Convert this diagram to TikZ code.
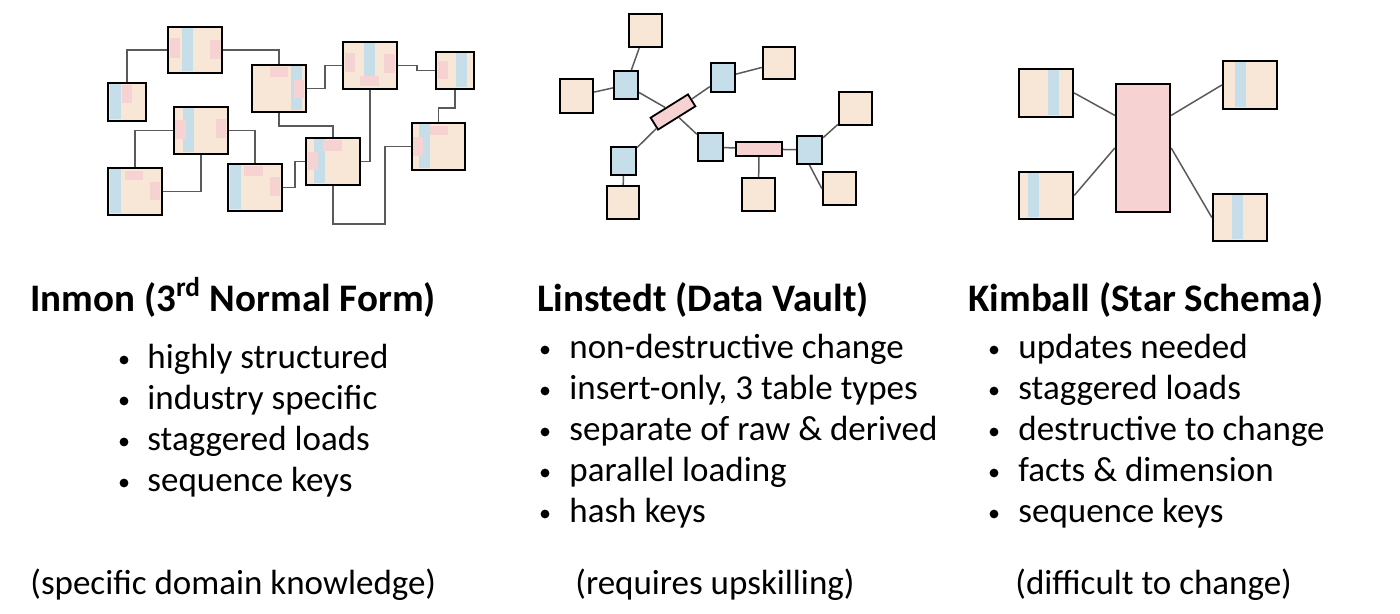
\documentclass[tikz,border=0pt]{standalone}
\usepackage{fontspec}
\setmainfont{Carlito}
\usetikzlibrary{fit,calc}

\definecolor{beige}{HTML}{F8E7D6}
\definecolor{stripe}{HTML}{C6DEE9}
\definecolor{patch}{HTML}{F6D2D2}
\definecolor{wire}{HTML}{5A5A5A}

\tikzset{
  tbl/.style={draw=black, line width=1.2pt, fill=beige, inner sep=0pt},
  hub/.style={draw=black, line width=1.1pt, fill=stripe, inner sep=0pt},
  lnk/.style={draw=black, line width=0.9pt, fill=patch, inner sep=0pt},
  wire/.style={draw=wire, line width=0.75pt},
  head/.style={anchor=base west, font=\bfseries\fontsize{19.5}{22}\selectfont, inner sep=0pt},
  item/.style={anchor=base west, font=\fontsize{17.5}{20}\selectfont, inner sep=0pt},
  dot/.style={circle, fill=black, inner sep=0pt, minimum size=4.4pt},
}
% table box by its corners
\newcommand{\tbl}[6][tbl]{\node[#1, fit={(#3,#4) (#5,#6)}] (#2) {};}
\newcommand{\band}[4]{\fill[stripe] (#1,#2) rectangle (#3,#4);}
\newcommand{\spot}[4]{\fill[patch] (#1,#2) rectangle (#3,#4);}

\begin{document}
\begin{tikzpicture}[x=0.5pt, y=-0.5pt]
  \useasboundingbox (0,0) rectangle (1400,614);

  %% Inmon
  \tbl{A}{168}{27}{222}{73}
  \tbl{B}{108}{83}{146}{121}
  \tbl{C}{252}{65}{306}{112}
  \tbl{D}{343}{42}{397}{89}
  \tbl{E}{436}{52}{474}{89}
  \tbl{F}{174}{107}{228}{154}
  \tbl{G}{108}{168}{162}{215}
  \tbl{H}{228}{164}{282}{211}
  \tbl{I}{306}{138}{360}{185}
  \tbl{J}{412}{123}{465}{170}

  \band{182}{28.5}{193}{71.5} \spot{170}{38}{180}{58} \spot{210}{40}{221}{59}
  \band{110}{84.5}{121}{119.5} \spot{122}{85}{132}{103}
  \band{291}{66.5}{302}{110.5} \spot{270}{67}{288}{77} \spot{294}{80}{304}{98}
  \band{364}{43.5}{375}{76} \spot{345}{53}{355}{72} \spot{384}{54}{395}{73} \spot{360}{76}{379}{86}
  \band{456}{53.5}{467}{87.5} \spot{438}{61}{448}{79}
  \band{183}{108.5}{194}{152.5} \spot{175}{120}{186}{139} \spot{216}{119}{226}{138}
  \band{110}{169.5}{121}{213.5} \spot{125}{171}{143}{180} \spot{150}{182}{160}{200}
  \band{229.5}{165.5}{241}{209.5} \spot{244}{166}{263}{176} \spot{270}{177}{280}{196}
  \band{314}{139.5}{325}{183.5} \spot{308}{152}{318}{170} \spot{323}{140}{342}{151}
  \band{419}{124.5}{430}{168.5} \spot{430}{126}{448}{135} \spot{413}{137}{423}{156}

  \draw[wire] (A.west) -| (B.north);
  \draw[wire] (A.east) -| (C.north);
  \draw[wire] (C.east) -- ++(18,0) |- (D.west);
  \draw[wire] (D.east) -- ++(19,0) |- (E.west);
  \draw[wire] (E.south) -- ++(0,18) -| (J.north);
  \draw[wire] (C.south) -- ++(0,13) -| (I.north);
  \draw[wire] (D.south) |- (I.east);
  \draw[wire] (F.west) -| (G.north);
  \draw[wire] (F.east) -| (H.north);
  \draw[wire] (F.south) |- (G.east);
  \draw[wire] (H.east) -- ++(12,0) |- (I.west);
  \coordinate (Jin) at ($(J.west)+(-26,0)$);
  \draw[wire] (I.south) -- ++(0,38) -| (Jin) -- (J.west);

  %% Linstedt
  \tbl{s1}{629}{14}{662}{47}
  \tbl{s2}{560}{79}{593}{113}
  \tbl{s3}{763}{47}{795}{79}
  \tbl{s4}{839}{92}{872}{125}
  \tbl{s5}{607}{186}{639}{219}
  \tbl{s6}{742}{178}{775}{211}
  \tbl{s7}{823}{172}{856}{205}
  \tbl[hub]{h1}{614}{71}{638}{99}
  \tbl[hub]{h2}{711}{63}{735}{92}
  \tbl[hub]{h3}{611}{147}{636}{175}
  \tbl[hub]{h4}{698}{133}{723}{161}
  \tbl[hub]{h5}{797}{136}{822}{164}
  \node[lnk, minimum width=22pt, minimum height=7pt, rotate=32] (l1) at (673,112) {};
  \tbl[lnk]{l2}{736}{142}{782}{156}

  \draw[wire] (s1) -- (h1);
  \draw[wire] (s2) -- (h1);
  \draw[wire] (h1) -- (l1);
  \draw[wire] (h2) -- (l1);
  \draw[wire] (h2) -- (s3);
  \draw[wire] (h3) -- (l1);
  \draw[wire] (h3) -- (s5);
  \draw[wire] (h4) -- (l1);
  \draw[wire] (h4) -- (l2);
  \draw[wire] (l2) -- (h5);
  \draw[wire] (l2) -- (s6);
  \draw[wire] (h5) -- (s4);
  \draw[wire] (h5.south) -- (s7.west);

  %% Kimball
  \tbl[lnk, line width=1.2pt]{fact}{1116}{84}{1170}{212}
  \tbl{d1}{1019}{69}{1073}{117}
  \tbl{d2}{1223}{61}{1277}{109}
  \tbl{d3}{1019}{172}{1073}{219}
  \tbl{d4}{1213}{194}{1267}{241}
  \band{1048}{70.5}{1059}{115.5}
  \band{1235}{62.5}{1246}{107.5}
  \band{1028}{173.5}{1039}{217.5}
  \band{1232}{195.5}{1243}{239.5}
  \coordinate (fw) at ($(fact.north west)!0.25!(fact.south west)$);
  \coordinate (fe) at ($(fact.north east)!0.25!(fact.south east)$);
  \draw[wire] (d1.east) -- (fw);
  \draw[wire] (d3.east) -- (fact.west);
  \draw[wire] (d2.west) -- (fe);
  \draw[wire] (d4.west) -- (fact.east);

  %% texts
  \node[head] (t1) at (30,312) {Inmon (3\textsuperscript{rd} Normal Form)};
  \node[head] (t2) at (537,312) {Linstedt (Data Vault)};
  \node[head] (t3) at (968,312) {Kimball (Star Schema)};

  \foreach \txt [count=\i] in {highly structured, industry specific, staggered loads, sequence keys} {
    \node[dot] at (124,{360+41*(\i-1)}) {};
    \node[item] at (147,{368+41*(\i-1)}) {\txt};
  }
  \foreach \txt [count=\i] in {non-destructive change, {insert-only, 3 table types}, separate of raw \& derived, parallel loading, hash keys} {
    \node[dot] at (545,{350+41*(\i-1)}) {};
    \node[item] at (569,{358+41*(\i-1)}) {\txt};
  }
  \foreach \txt [count=\i] in {updates needed, staggered loads, destructive to change, facts \& dimension, sequence keys} {
    \node[dot] at (994,{350+41*(\i-1)}) {};
    \node[item] at (1018,{358+41*(\i-1)}) {\txt};
  }

  \node[item] (f1) at (30,594) {(specific domain knowledge)};
  \node[item] (f2) at (575,594) {(requires upskilling)};
  \node[item] (f3) at (1015,594) {(difficult to change)};
\end{tikzpicture}
\end{document}
